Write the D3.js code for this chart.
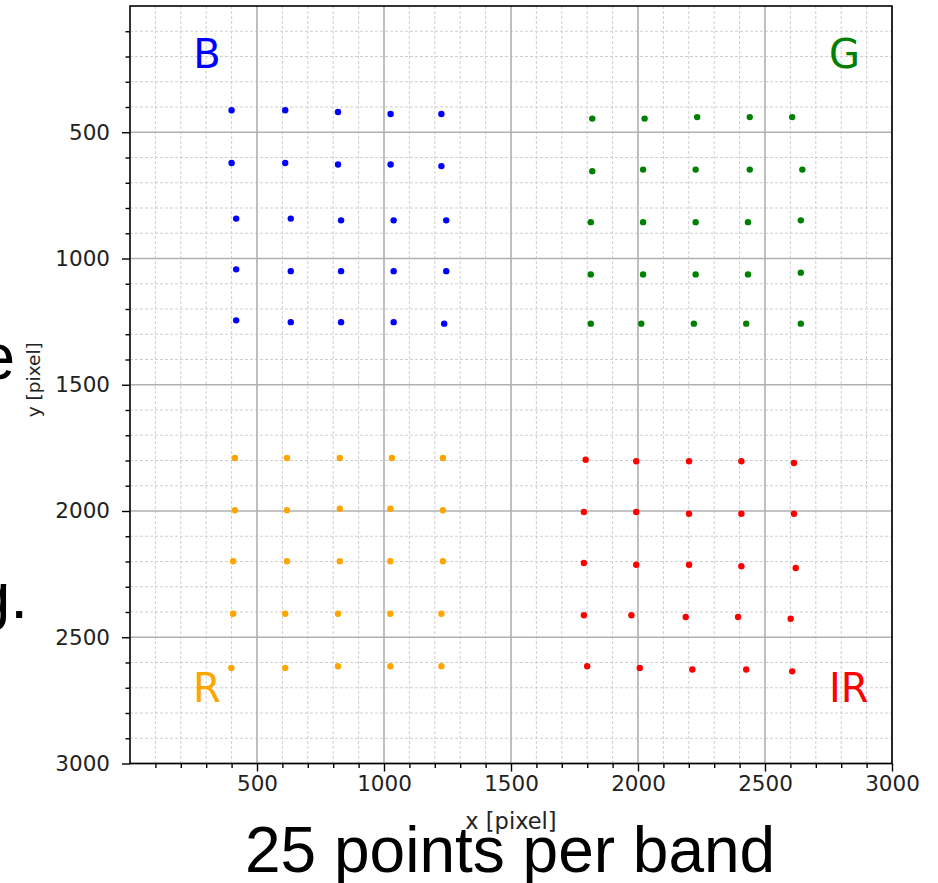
<!DOCTYPE html>
<html>
<head>
<meta charset="utf-8">
<script src="https://cdn.jsdelivr.net/npm/d3@7"></script>
<style>
  body { margin:0; background:#fff; }
  svg { display:block; }
</style>
</head>
<body>
<svg id="chart" width="938" height="883"></svg>
<script>

// measured points per band, [x, y] in pixel coords
var bandB = [
    [400,413],[611,413],[819,420],[1026,428],[1226,428],
    [400,622],[611,622],[819,628],[1026,628],[1226,634],
    [418,842],[633,842],[831,849],[1038,849],[1245,849],
    [418,1043],[633,1050],[831,1050],[1038,1050],[1245,1050],
    [418,1245],[633,1252],[831,1252],[1038,1252],[1237,1258]
];
var bandG = [
    [1820,446],[2026,446],[2233,440],[2440,440],[2607,440],
    [1820,654],[2020,648],[2227,648],[2440,648],[2647,648],
    [1814,856],[2020,856],[2227,856],[2433,856],[2641,849],
    [1814,1063],[2020,1063],[2227,1063],[2433,1063],[2641,1056],
    [1814,1258],[2013,1258],[2220,1258],[2426,1258],[2641,1258]
];
var bandR = [
    [413,1790],[618,1790],[826,1790],[1031,1790],[1232,1790],
    [413,1997],[618,1997],[826,1991],[1025,1991],[1232,1997],
    [406,2199],[618,2199],[826,2199],[1025,2199],[1232,2199],
    [406,2407],[611,2407],[819,2407],[1025,2407],[1226,2407],
    [399,2622],[611,2622],[819,2615],[1025,2615],[1226,2615]
];
var bandIR = [
    [1794,1797],[1993,1803],[2201,1803],[2407,1803],[2614,1810],
    [1787,2004],[1993,2004],[2201,2011],[2407,2011],[2614,2011],
    [1787,2206],[1993,2213],[2201,2213],[2407,2219],[2621,2226],
    [1787,2413],[1974,2413],[2188,2420],[2394,2420],[2601,2427],
    [1800,2615],[2007,2622],[2214,2628],[2426,2628],[2607,2635]
];

var bandNames  = ["B","G","R","IR"];
var bandColors = ["#0000ff","#008000","#ffa500","#ff0000"];
var bands      = [bandB, bandG, bandR, bandIR];

var majorTicks = [500,1000,1500,2000,2500,3000];
var xLabel = "x [pixel]";
var yLabel = "y [pixel]";
var caption = "25 points per band";

var svg = d3.select("#chart");

// plot box (note: "top" is reserved on window)
var pLeft = 130, pRight = 892, pTop = 6, pBottom = 763.5;

var x = d3.scaleLinear().domain([0,3000]).range([pLeft,pRight]);
var y = d3.scaleLinear().domain([0,3000]).range([pTop,pBottom]);

var minorTicks = d3.range(100,3000,100).filter(function(v){ return v % 500 != 0; });

svg.append("rect").attr("width",938).attr("height",883).attr("fill","#fff");

// minor grid, dashed
var grid = svg.append("g");
grid.selectAll(".mx").data(minorTicks).enter().append("line")
    .attr("x1",function(d){ return x(d); }).attr("x2",function(d){ return x(d); })
    .attr("y1",pTop).attr("y2",pBottom)
    .attr("stroke","#cfcfcf").attr("stroke-width",1).attr("stroke-dasharray","3,2");
grid.selectAll(".my").data(minorTicks).enter().append("line")
    .attr("y1",function(d){ return y(d); }).attr("y2",function(d){ return y(d); })
    .attr("x1",pLeft).attr("x2",pRight)
    .attr("stroke","#cfcfcf").attr("stroke-width",1).attr("stroke-dasharray","3,2");

// major grid
grid.selectAll(".Mx").data(majorTicks).enter().append("line")
    .attr("x1",function(d){ return x(d); }).attr("x2",function(d){ return x(d); })
    .attr("y1",pTop).attr("y2",pBottom)
    .attr("stroke","#b0b0b0").attr("stroke-width",1.6);
grid.selectAll(".My").data(majorTicks).enter().append("line")
    .attr("y1",function(d){ return y(d); }).attr("y2",function(d){ return y(d); })
    .attr("x1",pLeft).attr("x2",pRight)
    .attr("stroke","#b0b0b0").attr("stroke-width",1.6);

// points
for(var i=0; i < bands.length; i++){
    svg.append("g").selectAll("circle").data(bands[i]).enter().append("circle")
        .attr("cx",function(d){ return x(d[0]); })
        .attr("cy",function(d){ return y(d[1]); })
        .attr("r",3.2)
        .attr("fill",bandColors[i]);
}

// frame
svg.append("rect")
    .attr("x",pLeft).attr("y",pTop)
    .attr("width",pRight-pLeft).attr("height",pBottom-pTop)
    .attr("fill","none").attr("stroke","#000").attr("stroke-width",1.6);

// axes
function styleAxis(g){
    g.select(".domain").remove();
    g.selectAll(".tick line").attr("stroke","#000").attr("stroke-width",1.4);
    g.selectAll(".tick text")
        .style("font-family","DejaVu Sans")
        .style("font-size","21.5px")
        .attr("fill","#222");
}

svg.append("g").attr("transform","translate(0,"+pBottom+")")
    .call(d3.axisBottom(x).tickValues(minorTicks).tickSize(4.5).tickFormat(""))
    .call(styleAxis);
svg.append("g").attr("transform","translate(0,"+pBottom+")")
    .call(d3.axisBottom(x).tickValues(majorTicks).tickSize(8).tickPadding(4).tickFormat(d3.format("d")))
    .call(styleAxis);

svg.append("g").attr("transform","translate("+pLeft+",0)")
    .call(d3.axisLeft(y).tickValues(minorTicks).tickSize(4.5).tickFormat(""))
    .call(styleAxis);
svg.append("g").attr("transform","translate("+pLeft+",0)")
    .call(d3.axisLeft(y).tickValues(majorTicks).tickSize(8).tickPadding(12).tickFormat(d3.format("d")))
    .call(styleAxis);

// axis labels
svg.append("text")
    .attr("x",x(1500)).attr("y",829)
    .style("font-family","DejaVu Sans").style("font-size","22.5px")
    .style("text-anchor","middle").attr("fill","#222")
    .text(xLabel);
svg.append("text")
    .attr("transform","translate(40,"+y(1480)+") rotate(-90)")
    .style("font-family","DejaVu Sans").style("font-size","18.5px")
    .style("text-anchor","middle").attr("fill","#222")
    .text(yLabel);

// band names in the corners
var labelPos = [[303,245],[2813,245],[303,2755],[2830,2755]];
for(var j=0; j < bandNames.length; j++){
    svg.append("text")
        .attr("x",x(labelPos[j][0])).attr("y",y(labelPos[j][1]))
        .style("font-family","DejaVu Sans").style("font-size","40px")
        .style("text-anchor","middle")
        .attr("fill",bandColors[j])
        .text(bandNames[j]);
}

// slide text around the figure
svg.append("text")
    .attr("x",245).attr("y",872)
    .style("font-family","Liberation Sans").style("font-size","64px")
    .attr("fill","#000")
    .text(caption);
svg.append("text")
    .attr("x",15).attr("y",379)
    .style("font-family","Liberation Sans").style("font-size","64px")
    .style("text-anchor","end").attr("fill","#000")
    .text("e");
svg.append("text")
    .attr("x",28).attr("y",618)
    .style("font-family","Liberation Sans").style("font-size","64px")
    .style("text-anchor","end").attr("fill","#000")
    .text("g.");

</script>
</body>
</html>
